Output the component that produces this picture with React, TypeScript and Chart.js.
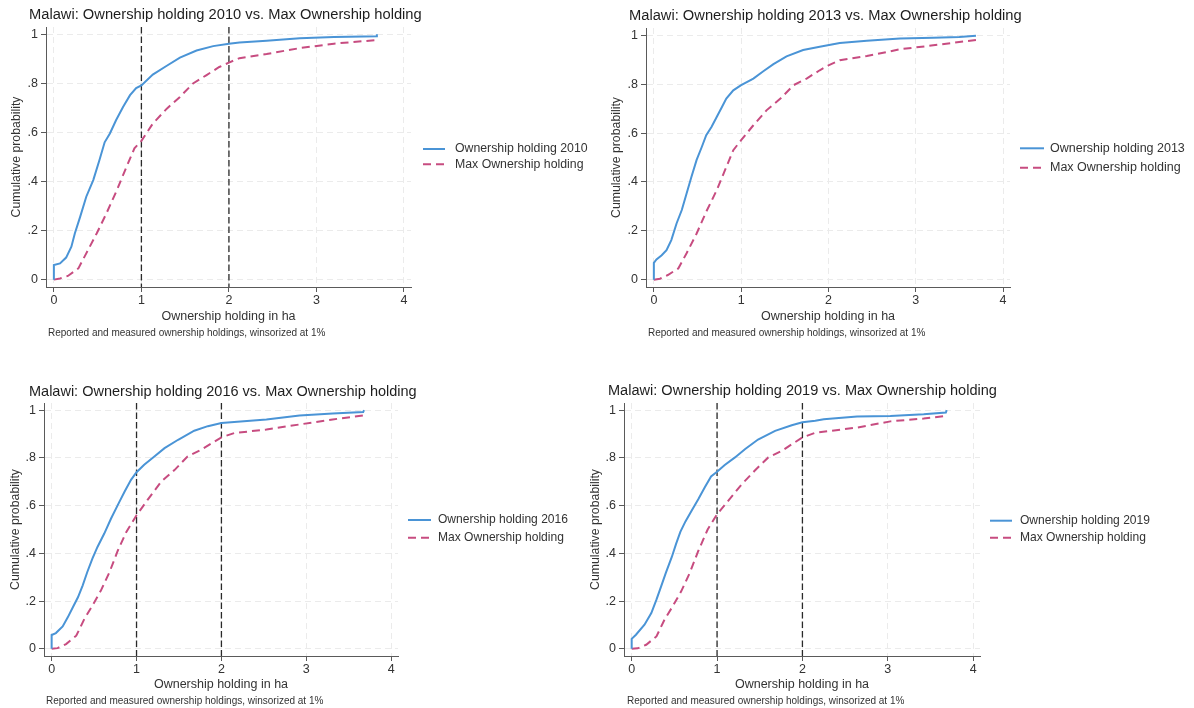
import React, { useEffect, useRef } from "react";
import { Chart, registerables } from "chart.js";

Chart.register(...registerables);

const FONT = "'Liberation Sans', Arial, Helvetica, sans-serif";
Chart.defaults.font.family = FONT;

// ---------- axis ticks ----------
const xTickValues = [0, 1, 2, 3, 4];
const xTickLabels = ["0", "1", "2", "3", "4"];
const yTickValues = [0, 0.2, 0.4, 0.6, 0.8, 1];
const yTickLabels = ["0", ".2", ".4", ".6", ".8", "1"];
const refLineValues = [1, 2];

// ---------- text ----------
const years = ["2010", "2013", "2016", "2019"];
const xTitle = "Ownership holding in ha";
const yTitle = "Cumulative probability";
const maxLabel = "Max Ownership holding";
const noteText = "Reported and measured ownership holdings, winsorized at 1%";

// ---------- series (x = ha, y = cumulative probability) ----------
const own2010: [number, number][] = [
  [0, 0], [0, 0.06], [0.07, 0.066], [0.14, 0.09], [0.2, 0.134], [0.24, 0.189], [0.3, 0.256],
  [0.37, 0.338], [0.45, 0.406], [0.52, 0.487], [0.58, 0.56], [0.64, 0.596], [0.71, 0.65],
  [0.79, 0.704], [0.87, 0.752], [0.94, 0.781], [1.0, 0.792], [1.13, 0.836], [1.29, 0.872],
  [1.44, 0.905], [1.63, 0.934], [1.82, 0.952], [2.0, 0.962], [2.12, 0.967], [2.43, 0.974],
  [2.81, 0.984], [3.2, 0.989], [3.69, 0.992], [3.69, 1.0],
];
const max2010: [number, number][] = [
  [0, 0], [0.07, 0.005], [0.16, 0.015], [0.28, 0.046], [0.37, 0.107], [0.49, 0.189], [0.6, 0.27],
  [0.72, 0.365], [0.83, 0.46], [0.92, 0.535], [1.0, 0.566], [1.13, 0.636], [1.29, 0.697],
  [1.44, 0.745], [1.59, 0.8], [1.74, 0.833], [1.89, 0.867], [2.0, 0.885], [2.12, 0.903],
  [2.43, 0.92], [2.81, 0.944], [3.2, 0.962], [3.69, 0.977],
];
const own2013: [number, number][] = [
  [0, 0], [0, 0.069], [0.03, 0.083], [0.09, 0.1], [0.145, 0.121], [0.2, 0.162], [0.26, 0.23],
  [0.32, 0.285], [0.375, 0.353], [0.43, 0.42], [0.49, 0.49], [0.55, 0.544], [0.6, 0.591],
  [0.66, 0.625], [0.72, 0.666], [0.78, 0.707], [0.83, 0.741], [0.91, 0.775], [1.0, 0.796],
  [1.14, 0.823], [1.25, 0.852], [1.37, 0.882], [1.52, 0.914], [1.71, 0.94], [1.9, 0.953],
  [2.13, 0.969], [2.44, 0.978], [2.82, 0.987], [3.2, 0.99], [3.5, 0.993], [3.69, 0.998],
];
const max2013: [number, number][] = [
  [0, 0], [0.07, 0.004], [0.16, 0.019], [0.28, 0.046], [0.375, 0.108], [0.49, 0.189], [0.6, 0.278],
  [0.72, 0.366], [0.815, 0.448], [0.91, 0.53], [1.0, 0.571], [1.14, 0.632], [1.29, 0.693],
  [1.45, 0.741], [1.6, 0.796], [1.75, 0.823], [1.9, 0.857], [2.0, 0.877], [2.13, 0.898],
  [2.44, 0.915], [2.82, 0.943], [3.2, 0.959], [3.69, 0.981],
];
const own2016: [number, number][] = [
  [0, 0], [0, 0.058], [0.05, 0.066], [0.13, 0.094], [0.19, 0.132], [0.25, 0.174], [0.31, 0.216],
  [0.365, 0.265], [0.42, 0.322], [0.48, 0.378], [0.54, 0.427], [0.62, 0.483], [0.7, 0.546],
  [0.78, 0.603], [0.86, 0.659], [0.935, 0.708], [1.0, 0.74], [1.09, 0.771], [1.21, 0.806],
  [1.33, 0.841], [1.49, 0.876], [1.68, 0.914], [1.84, 0.933], [2.0, 0.946], [2.15, 0.95],
  [2.53, 0.961], [2.92, 0.978], [3.31, 0.986], [3.67, 0.992], [3.68, 1.0],
];
const max2016: [number, number][] = [
  [0, 0], [0.07, 0.003], [0.17, 0.02], [0.29, 0.055], [0.385, 0.125], [0.48, 0.181], [0.58, 0.244],
  [0.68, 0.32], [0.78, 0.412], [0.88, 0.49], [1.0, 0.56], [1.13, 0.624], [1.29, 0.7],
  [1.45, 0.75], [1.6, 0.806], [1.76, 0.834], [1.92, 0.869], [2.0, 0.886], [2.15, 0.904],
  [2.53, 0.919], [2.92, 0.94], [3.31, 0.961], [3.67, 0.978],
];
const own2019: [number, number][] = [
  [0, 0], [0, 0.042], [0.05, 0.059], [0.15, 0.101], [0.23, 0.15], [0.29, 0.206], [0.345, 0.262],
  [0.4, 0.318], [0.47, 0.385], [0.52, 0.44], [0.57, 0.49], [0.63, 0.534], [0.7, 0.578],
  [0.78, 0.627], [0.855, 0.676], [0.93, 0.722], [1.0, 0.742], [1.09, 0.77], [1.21, 0.802],
  [1.33, 0.837], [1.48, 0.877], [1.68, 0.913], [1.875, 0.937], [2.0, 0.949], [2.15, 0.956],
  [2.25, 0.962], [2.64, 0.973], [3.03, 0.976], [3.42, 0.983], [3.68, 0.99], [3.69, 1.0],
];
const max2019: [number, number][] = [
  [0, 0], [0.07, 0.002], [0.17, 0.017], [0.29, 0.052], [0.384, 0.122], [0.48, 0.178], [0.58, 0.241],
  [0.68, 0.318], [0.78, 0.41], [0.89, 0.5], [1.0, 0.564], [1.13, 0.62], [1.29, 0.69],
  [1.44, 0.746], [1.6, 0.802], [1.76, 0.83], [1.91, 0.865], [2.0, 0.886], [2.15, 0.905],
  [2.64, 0.927], [3.03, 0.953], [3.42, 0.965], [3.68, 0.976],
];

// ---------- styles ----------
const BLUE = "#4a94d6";
const RED = "#c74c80";
const AXIS = "#5a5a5a";
const GRID = "#ebebeb";
const TEXT = "#333333";

interface PanelCfg {
  year: string;
  own: [number, number][];
  max: [number, number][];
  refLines: boolean;
  left: number; top: number; width: number; height: number;
  padLeft: number; chartLeft: number; chartTop: number; chartRight: number; chartBottom: number;
  titleX: number; titleY: number; titleSize: number;
  legendLineX: number; legendLineLen: number; legendTextX: number; legendRows: number[]; legendSize: number;
  noteX: number; noteY: number;
  xTitleY: number;
}

const panels: PanelCfg[] = [
  {
    year: years[0], own: own2010, max: max2010, refLines: true,
    left: 0, top: 0, width: 597, height: 345,
    padLeft: 9, chartLeft: 46, chartTop: 27, chartRight: 411, chartBottom: 287,
    titleX: 29, titleY: 15, titleSize: 14.7,
    legendLineX: 423, legendLineLen: 22, legendTextX: 455, legendRows: [149, 164.3], legendSize: 12.3,
    noteX: 48, noteY: 333, xTitleY: 317,
  },
  {
    year: years[1], own: own2013, max: max2013, refLines: false,
    left: 600, top: 0, width: 594, height: 345,
    padLeft: 9, chartLeft: 46, chartTop: 28, chartRight: 410, chartBottom: 287,
    titleX: 29, titleY: 15.7, titleSize: 14.7,
    legendLineX: 420, legendLineLen: 24, legendTextX: 450, legendRows: [148.3, 167.7], legendSize: 12.5,
    noteX: 48, noteY: 333, xTitleY: 317,
  },
  {
    year: years[2], own: own2016, max: max2016, refLines: true,
    left: 0, top: 360, width: 580, height: 348,
    padLeft: 8, chartLeft: 44, chartTop: 43, chartRight: 398, chartBottom: 296,
    titleX: 29, titleY: 31.7, titleSize: 14.5,
    legendLineX: 408, legendLineLen: 23, legendTextX: 438, legendRows: [160, 177.7], legendSize: 12.05,
    noteX: 46, noteY: 341, xTitleY: 324.3,
  },
  {
    year: years[3], own: own2019, max: max2019, refLines: true,
    left: 580, top: 360, width: 614, height: 348,
    padLeft: 8, chartLeft: 44, chartTop: 43, chartRight: 400, chartBottom: 296,
    titleX: 28, titleY: 30.7, titleSize: 14.55,
    legendLineX: 410, legendLineLen: 22, legendTextX: 440, legendRows: [160.7, 177.7], legendSize: 12.05,
    noteX: 47, noteY: 341, xTitleY: 324.3,
  },
];

function Panel({ cfg }: { cfg: PanelCfg }) {
  const ref = useRef<HTMLCanvasElement>(null);

  useEffect(() => {
    const canvas = ref.current;
    if (!canvas) return;
    const titleText = `Malawi: Ownership holding ${cfg.year} vs. Max Ownership holding`;
    const tickFont = 12.5;
    const xTitleLine = tickFont * 1.2;

    const extras = {
      id: "panelExtras",
      beforeDatasetsDraw(chart: any) {
        if (!cfg.refLines) return;
        const ctx = chart.ctx as CanvasRenderingContext2D;
        const area = chart.chartArea;
        const xs = chart.scales.x;
        ctx.save();
        ctx.strokeStyle = "#2a2a2a";
        ctx.lineWidth = 1.3;
        ctx.setLineDash([6.5, 3]);
        refLineValues.forEach((v) => {
          const px = xs.getPixelForValue(v);
          ctx.beginPath();
          ctx.moveTo(px, area.top);
          ctx.lineTo(px, area.bottom);
          ctx.stroke();
        });
        ctx.restore();
      },
      afterDraw(chart: any) {
        const ctx = chart.ctx as CanvasRenderingContext2D;
        ctx.save();
        ctx.textAlign = "left";
        ctx.textBaseline = "middle";
        // title
        ctx.font = `${cfg.titleSize}px ${FONT}`;
        ctx.fillStyle = "#1e1e1e";
        ctx.fillText(titleText, cfg.titleX, cfg.titleY);
        // legend
        chart.data.datasets.forEach((ds: any, i: number) => {
          const y = cfg.legendRows[i];
          ctx.beginPath();
          ctx.setLineDash(ds.borderDash || []);
          ctx.strokeStyle = ds.borderColor;
          ctx.lineWidth = ds.borderWidth;
          ctx.moveTo(cfg.legendLineX, y);
          ctx.lineTo(cfg.legendLineX + cfg.legendLineLen, y);
          ctx.stroke();
          ctx.setLineDash([]);
          ctx.font = `${cfg.legendSize}px ${FONT}`;
          ctx.fillStyle = TEXT;
          ctx.fillText(ds.label, cfg.legendTextX, y);
        });
        // note
        ctx.font = `10px ${FONT}`;
        ctx.fillStyle = TEXT;
        ctx.fillText(noteText, cfg.noteX, cfg.noteY);
        ctx.restore();
      },
    };

    const chart = new Chart(canvas, {
      type: "scatter",
      data: {
        datasets: [
          {
            label: `Ownership holding ${cfg.year}`,
            data: cfg.own.map(([x, y]) => ({ x, y })),
            showLine: true,
            borderColor: BLUE,
            backgroundColor: BLUE,
            borderWidth: 2,
            pointRadius: 0,
            tension: 0,
          },
          {
            label: maxLabel,
            data: cfg.max.map(([x, y]) => ({ x, y })),
            showLine: true,
            borderColor: RED,
            backgroundColor: RED,
            borderWidth: 2,
            borderDash: [8, 5],
            pointRadius: 0,
            tension: 0,
          },
        ],
      },
      options: {
        responsive: false,
        animation: false,
        layout: {
          padding: {
            left: cfg.padLeft,
            top: cfg.chartTop,
            right: cfg.width - cfg.chartRight,
            bottom: 0,
          },
        },
        plugins: {
          legend: { display: false },
          title: { display: false },
          tooltip: { enabled: false },
        },
        scales: {
          x: {
            type: "linear",
            min: -0.09,
            max: 4.08,
            afterBuildTicks: (s: any) => {
              s.ticks = xTickValues.map((v) => ({ value: v }));
            },
            afterFit: (s: any) => {
              s.height = cfg.height - cfg.chartBottom;
            },
            ticks: {
              callback: (_v: any, i: number) => xTickLabels[i],
              font: { size: tickFont },
              color: TEXT,
              padding: 1,
              maxRotation: 0,
              autoSkip: false,
            },
            grid: {
              color: GRID,
              lineWidth: 1,
              drawTicks: true,
              tickLength: 5,
              tickColor: AXIS,
              tickBorderDash: [],
            },
            border: { display: true, color: AXIS, width: 1, dash: [6, 4] },
            title: {
              display: true,
              text: xTitle,
              font: { size: tickFont },
              color: TEXT,
              padding: { top: 0, bottom: cfg.height - cfg.xTitleY - xTitleLine / 2 },
            },
          },
          y: {
            type: "linear",
            min: -0.03,
            max: 1.03,
            afterBuildTicks: (s: any) => {
              s.ticks = yTickValues.map((v) => ({ value: v }));
            },
            afterFit: (s: any) => {
              s.width = cfg.chartLeft - cfg.padLeft;
            },
            ticks: {
              callback: (_v: any, i: number) => yTickLabels[i],
              font: { size: tickFont },
              color: TEXT,
              padding: 3,
              autoSkip: false,
            },
            grid: {
              color: GRID,
              lineWidth: 1,
              drawTicks: true,
              tickLength: 5,
              tickColor: AXIS,
              tickBorderDash: [],
            },
            border: { display: true, color: AXIS, width: 1, dash: [6, 4] },
            title: {
              display: true,
              text: yTitle,
              font: { size: 12.3 },
              color: TEXT,
              padding: { top: 0, bottom: 0 },
            },
          },
        },
      } as any,
      plugins: [extras],
    });

    return () => chart.destroy();
  }, [cfg]);

  return (
    <canvas
      ref={ref}
      width={cfg.width}
      height={cfg.height}
      style={{
        position: "absolute",
        left: cfg.left,
        top: cfg.top,
        width: cfg.width,
        height: cfg.height,
      }}
    />
  );
}

export default function App() {
  return (
    <div
      style={{
        position: "absolute",
        left: 0,
        top: 0,
        width: 1194,
        height: 708,
        background: "#ffffff",
        overflow: "hidden",
      }}
    >
      {panels.map((p) => (
        <Panel key={p.year} cfg={p} />
      ))}
    </div>
  );
}
